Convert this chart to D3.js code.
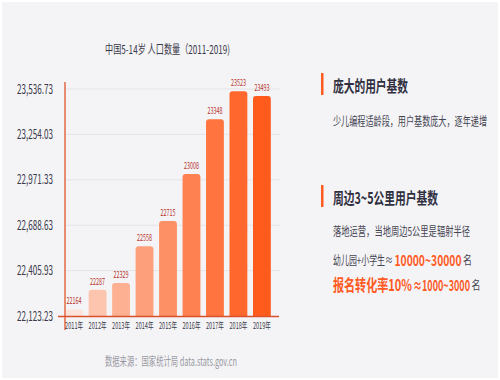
<!DOCTYPE html>
<html><head><meta charset="utf-8">
<script src="https://cdn.jsdelivr.net/npm/d3@7"></script>
<style>
html,body{margin:0;padding:0;background:#fff;}
svg{display:block;}
text{font-family:"Noto Sans CJK SC","Noto Sans",sans-serif;}
</style></head><body>
<svg id="c" width="500" height="380"></svg>
<script>
const years = ["2011年","2012年","2013年","2014年","2015年","2016年","2017年","2018年","2019年"];
const values = [22164,22287,22329,22558,22715,23008,23348,23523,23493];
const yTicks = [22123.23,22405.93,22688.63,22971.33,23254.03,23536.73];
const title = "中国5-14岁 人口数量（2011-2019)";
const source = "数据来源：国家统计局 data.stats.gov.cn";

const svg = d3.select("#c");
svg.append("rect").attr("x",2).attr("y",2).attr("width",496).attr("height",376).attr("fill","#f4f4f6");

const x = d3.scaleBand().domain(years).range([64,272]).paddingInner(0.24).paddingOuter(0.05);
const y = d3.scaleLinear().domain([yTicks[0], yTicks[yTicks.length-1]]).range([316,89]);

const col = d3.scalePow().exponent(0.7).domain([0, years.length-1]).range(["#fde4db","#ff5b1c"]).interpolate(d3.interpolateRgb);

function txt(g, x0, y0, str, size, fill, len, opts={}) {
  const t = g.append("text").attr("x",x0).attr("y",y0).attr("font-size",size).attr("fill",fill).text(str);
  if (len) t.attr("textLength",len).attr("lengthAdjust","spacingAndGlyphs");
  if (opts.bold) t.attr("font-weight","bold");
  if (opts.anchor) t.attr("text-anchor",opts.anchor);
  return t;
}

// grid
svg.append("g").selectAll("line").data(yTicks.slice(1)).join("line")
  .attr("x1",66).attr("x2",280).attr("y1",d=>y(d)).attr("y2",d=>y(d))
  .attr("stroke","#e4e4ea").attr("stroke-width",1);

// y axis labels
const yAxis = d3.axisLeft(y).tickValues(yTicks).tickSize(0).tickPadding(8)
  .tickFormat(d3.format(",.2f"));
const ga = svg.append("g").attr("transform","translate(65,0)").call(yAxis);
ga.select(".domain").remove();
ga.selectAll("text").attr("font-size",13).attr("fill","#3a3a4a").attr("x",-12)
  .attr("textLength",36).attr("lengthAdjust","spacingAndGlyphs");

// bars
const r = 3;
svg.append("g").selectAll("path").data(values).join("path")
  .attr("d",(d,i)=>{
    const x0 = x(years[i]), w = x.bandwidth(), y0 = y(d), y1 = y(yTicks[0]);
    return `M${x0},${y1}V${y0+r}Q${x0},${y0} ${x0+r},${y0}H${x0+w-r}Q${x0+w},${y0} ${x0+w},${y0+r}V${y1}Z`;
  })
  .attr("fill",(d,i)=>col(i));

// value labels
svg.append("g").selectAll("text").data(values).join("text")
  .attr("x",(d,i)=>x(years[i])+x.bandwidth()/2).attr("y",d=>y(d)-5)
  .attr("text-anchor","middle").attr("font-size",9).attr("fill","#b8322a")
  .attr("textLength",15).attr("lengthAdjust","spacingAndGlyphs")
  .text(d=>d);

// axis lines
svg.append("line").attr("x1",65).attr("x2",65).attr("y1",82).attr("y2",330).attr("stroke","#e0552a").attr("stroke-width",1.3);
svg.append("line").attr("x1",58).attr("x2",279).attr("y1",316.5).attr("y2",316.5).attr("stroke","#d9502a").attr("stroke-width",1.5);

// x labels
const xAxis = d3.axisBottom(x).tickSize(0).tickPadding(6);
const gx = svg.append("g").attr("transform","translate(0,317)").call(xAxis);
gx.select(".domain").remove();
gx.selectAll("text").attr("font-size",9).attr("fill","#3a3a4a")
  .attr("textLength",18).attr("lengthAdjust","spacingAndGlyphs");

// title
txt(svg, 167.5, 54, title, 12, "#3a3a4a", 125, {anchor:"middle"});

// source
txt(svg, 171, 366, source, 12, "#9a9aa4", 132, {anchor:"middle"});

// right panel
const orange = "#ff5a1f", dark = "#2f2f3f", mid = "#444452";
svg.append("rect").attr("x",321).attr("y",73).attr("width",2.5).attr("height",22).attr("fill",orange);
txt(svg, 333, 92, "庞大的用户基数", 16, dark, 75, {bold:true});
txt(svg, 333, 126, "少儿编程适龄段，用户基数庞大，逐年递增", 12, mid, 154);

svg.append("rect").attr("x",321).attr("y",185).attr("width",2.5).attr("height",22).attr("fill",orange);
txt(svg, 333, 204, "周边3~5公里用户基数", 16, dark, 105, {bold:true});
txt(svg, 333, 236, "落地运营，当地周边5公里是辐射半径", 12, mid, 137);

txt(svg, 333, 265, "幼儿园+小学生≈", 12, mid, 60);
txt(svg, 394.5, 266, "10000~30000", 15, orange, 67, {bold:true});
txt(svg, 463, 265, "名", 12, mid, 9);

txt(svg, 333, 291, "报名转化率10%", 16, orange, 79, {bold:true});
txt(svg, 413, 291, "≈1000~3000", 15, orange, 57, {bold:true});
txt(svg, 471.5, 290, "名", 12, mid, 9);
</script>
</body></html>
